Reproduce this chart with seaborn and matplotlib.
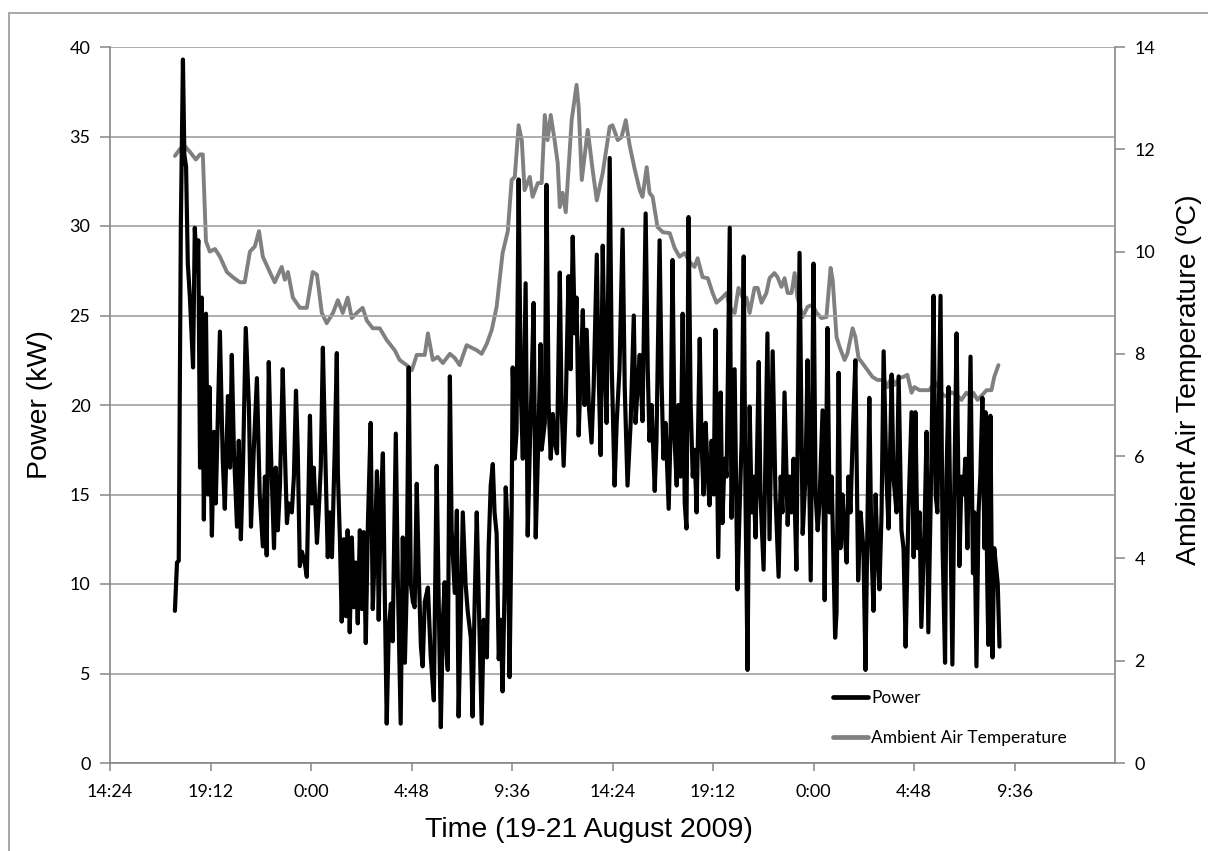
import numpy as np
import pandas as pd
import seaborn as sns
import matplotlib.pyplot as plt
from matplotlib.lines import Line2D
from matplotlib.patches import Rectangle
from matplotlib.ticker import FuncFormatter

# readings, minutes after 17:30 on 19 August 2009
power_min = [
    0, 6, 11, 17, 23, 27, 32, 37, 43, 52, 57, 63, 67, 72, 77, 83, 89, 95, 99, 106,
    112, 117, 129, 137, 143, 152, 158, 163, 169, 178, 183, 189, 195, 203, 212, 218, 226, 235, 243, 252,
    258, 263, 269, 275, 284, 289, 295, 301, 309, 315, 321, 326, 335, 341, 347, 352, 358, 364, 372, 378,
    387, 392, 398, 407, 412, 418, 424, 430, 438, 444, 450, 458, 464, 467, 473, 478, 484, 490, 495, 501,
    507, 513, 518, 524, 530, 536, 541, 547, 553, 561, 567, 573, 579, 584, 590, 596, 601, 607, 613, 619,
    624, 633, 639, 647, 653, 659, 664, 670, 676, 682, 687, 693, 699, 705, 710, 716, 725, 733, 742, 750,
    756, 762, 768, 773, 779, 782, 788, 793, 802, 808, 813, 819, 825, 833, 839, 848, 853, 859, 865, 871,
    879, 885, 894, 899, 905, 911, 916, 922, 928, 934, 939, 945, 948, 954, 959, 965, 968, 974, 979, 985,
    991, 997, 1005, 1011, 1017, 1022, 1028, 1034, 1040, 1048, 1051, 1060, 1065, 1071, 1077, 1083, 1088, 1095, 1103, 1108,
    1114, 1120, 1128, 1134, 1140, 1146, 1151, 1157, 1163, 1169, 1174, 1180, 1186, 1194, 1200, 1209, 1214, 1220, 1226, 1232,
    1237, 1246, 1252, 1260, 1266, 1274, 1283, 1289, 1297, 1306, 1315, 1320, 1326, 1332, 1340, 1349, 1355, 1360, 1366, 1375,
    1380, 1389, 1395, 1400, 1406, 1415, 1421, 1426, 1432, 1438, 1443, 1449, 1455, 1461, 1466, 1472, 1478, 1484, 1489, 1495,
    1504, 1509, 1515, 1521, 1527, 1532, 1538, 1544, 1549, 1557, 1564, 1569, 1575, 1581, 1590, 1595, 1604, 1612, 1618, 1624,
    1630, 1635, 1641, 1647, 1653, 1658, 1664, 1673, 1678, 1687, 1693, 1698, 1704, 1713, 1721, 1730, 1736, 1741, 1747, 1756,
    1761, 1767, 1773, 1781, 1790, 1799, 1807, 1813, 1822, 1830, 1836, 1842, 1847, 1856, 1862, 1870, 1876, 1882, 1892, 1896,
    1902, 1907, 1913, 1919, 1925, 1930, 1936, 1942, 1950, 1958, 1965, 1973, 1979, 1985, 1990, 1996, 2002, 2008, 2013, 2019,
    2025, 2031, 2039, 2045, 2054, 2059, 2068, 2074, 2082, 2088, 2094, 2102, 2111, 2117, 2122, 2128, 2134, 2139, 2148, 2154,
    2159, 2168, 2174, 2180, 2185, 2194, 2200, 2207, 2211, 2217, 2222, 2228, 2234, 2240, 2248, 2254, 2260, 2265, 2271, 2280,
    2287, 2291, 2297, 2303, 2308, 2314, 2320, 2323, 2328, 2331, 2337, 2343, 2348, 2358, 2363,
]
power_kw = [
    8.5, 11.2, 11.3, 30.0, 39.3, 34.0, 33.3, 27.9, 26.0, 22.1, 29.9, 27.5, 29.2, 16.5, 26.0, 13.6, 25.1, 15.0, 21.0, 12.7,
    18.5, 14.5, 24.1, 17.0, 14.2, 20.5, 16.5, 22.8, 17.5, 13.2, 18.0, 12.5, 16.5, 24.3, 20.0, 13.2, 17.5, 21.5, 15.0, 12.1,
    16.0, 11.6, 22.4, 17.5, 12.0, 16.5, 13.0, 15.5, 22.0, 17.5, 13.4, 14.5, 14.0, 16.0, 20.8, 17.5, 11.0, 11.8, 11.2, 10.4,
    19.4, 14.5, 16.5, 12.3, 14.0, 16.5, 23.2, 18.0, 11.5, 14.0, 11.5, 17.5, 22.9, 16.2, 12.4, 7.9, 12.5, 8.2, 13.0, 7.3,
    12.6, 8.7, 11.2, 7.8, 13.0, 8.6, 12.9, 6.7, 13.3, 19.0, 8.6, 12.0, 16.3, 8.0, 14.5, 17.3, 10.0, 2.2, 7.5, 8.9,
    6.8, 18.4, 10.0, 2.2, 12.6, 5.6, 9.5, 22.1, 10.0, 9.0, 8.7, 15.6, 10.5, 6.5, 5.4, 9.0, 9.8, 6.0, 3.5, 16.6,
    9.0, 2.0, 8.0, 10.1, 6.0, 5.2, 21.6, 13.0, 9.5, 14.1, 2.6, 8.0, 14.0, 10.0, 8.5, 7.0, 2.6, 9.0, 14.0, 9.0,
    2.2, 8.0, 5.9, 12.0, 15.5, 16.7, 14.0, 12.8, 5.8, 8.0, 4.0, 10.0, 15.4, 13.0, 4.8, 14.0, 22.1, 17.0, 18.5, 32.6,
    21.0, 17.0, 26.8, 12.7, 17.5, 21.0, 25.7, 12.6, 17.0, 23.4, 17.5, 19.0, 32.3, 20.0, 17.0, 19.5, 18.0, 17.3, 27.4, 20.0,
    16.6, 20.0, 27.2, 22.0, 29.4, 24.0, 26.0, 18.3, 22.0, 25.3, 20.0, 24.2, 20.0, 17.9, 21.0, 28.4, 22.0, 17.2, 28.9, 22.0,
    19.0, 33.8, 22.0, 15.5, 19.0, 22.0, 29.8, 21.0, 15.5, 19.0, 25.0, 19.0, 21.0, 22.8, 19.1, 30.7, 22.0, 18.0, 20.0, 15.2,
    18.0, 29.2, 21.0, 17.0, 19.0, 14.2, 19.0, 28.1, 18.0, 15.5, 20.0, 16.0, 25.1, 14.5, 13.1, 30.5, 20.0, 16.0, 17.5, 14.0,
    23.7, 18.0, 15.0, 19.0, 16.0, 14.4, 18.0, 15.0, 24.2, 11.5, 20.7, 13.4, 17.0, 16.0, 29.9, 13.7, 22.0, 9.7, 14.0, 18.0,
    28.3, 15.0, 5.2, 19.9, 14.0, 16.0, 12.6, 22.4, 15.0, 10.8, 18.0, 24.0, 12.5, 23.0, 15.0, 10.4, 16.0, 14.0, 20.7, 13.3,
    16.0, 14.0, 17.0, 10.8, 28.5, 12.8, 16.0, 22.5, 10.2, 27.9, 15.0, 13.0, 14.5, 19.7, 9.1, 24.3, 14.0, 16.0, 7.0, 8.4,
    21.8, 12.0, 15.0, 13.0, 11.2, 16.0, 14.0, 18.0, 22.5, 10.2, 14.0, 12.0, 5.2, 14.0, 20.4, 12.0, 8.5, 15.0, 12.0, 9.7,
    14.0, 23.0, 16.0, 13.1, 21.7, 16.0, 14.0, 21.6, 13.0, 12.0, 6.5, 14.0, 19.6, 11.5, 19.6, 12.0, 14.0, 7.6, 13.0, 18.5,
    7.3, 17.0, 26.1, 15.0, 14.0, 26.1, 12.0, 5.6, 16.0, 21.0, 14.0, 5.5, 16.0, 24.0, 11.0, 16.0, 15.0, 17.0, 12.0, 22.7,
    10.6, 14.0, 5.4, 14.0, 16.0, 20.4, 12.0, 19.6, 10.0, 6.6, 19.4, 5.9, 12.0, 10.0, 6.5,
]

temp_min = [
    0, 14, 26, 43, 60, 72, 80, 89, 100, 115, 129, 149, 166, 186, 200, 215, 229, 241, 252, 272,
    286, 306, 315, 324, 338, 358, 378, 395, 407, 421, 435, 453, 467, 481, 495, 507, 521, 538, 550, 567,
    587, 607, 630, 644, 664, 679, 693, 716, 725, 739, 753, 768, 788, 802, 816, 836, 865, 879, 894, 908,
    922, 939, 954, 965, 974, 985, 994, 1002, 1017, 1025, 1040, 1051, 1060, 1068, 1077, 1088, 1097, 1103, 1111, 1120,
    1137, 1151, 1157, 1166, 1183, 1197, 1209, 1226, 1246, 1254, 1269, 1280, 1292, 1303, 1317, 1332, 1340, 1352, 1360, 1369,
    1383, 1398, 1418, 1432, 1446, 1461, 1475, 1489, 1498, 1512, 1527, 1541, 1552, 1567, 1581, 1590, 1604, 1615, 1627, 1638,
    1647, 1661, 1670, 1681, 1695, 1704, 1718, 1727, 1738, 1747, 1756, 1767, 1776, 1784, 1799, 1813, 1827, 1839, 1853, 1867,
    1879, 1885, 1896, 1905, 1919, 1927, 1942, 1950, 1959, 1970, 1985, 1999, 2013, 2033, 2042, 2054, 2062, 2076, 2088, 2099,
    2111, 2119, 2134, 2162, 2177, 2185, 2200, 2214, 2225, 2240, 2254, 2268, 2283, 2288, 2300, 2314, 2326, 2340, 2348, 2360,
]
temp_c = [
    11.87, 12.0, 12.08, 11.95, 11.8, 11.9, 11.9, 10.2, 10.0, 10.05, 9.9, 9.6, 9.5, 9.4, 9.4, 10.0, 10.1, 10.4, 9.9, 9.6,
    9.4, 9.7, 9.45, 9.6, 9.1, 8.9, 8.9, 9.6, 9.55, 8.8, 8.6, 8.8, 9.05, 8.8, 9.1, 8.7, 8.8, 8.9, 8.65, 8.5,
    8.5, 8.27, 8.07, 7.88, 7.78, 7.68, 7.98, 7.98, 8.4, 7.88, 7.94, 7.82, 8.0, 7.92, 7.78, 8.17, 8.07, 8.0, 8.2, 8.47,
    8.92, 9.97, 10.4, 11.4, 11.46, 12.47, 12.18, 11.2, 11.46, 11.07, 11.34, 11.34, 12.67, 12.18, 12.67, 12.18, 11.73, 10.87, 11.15, 10.77,
    12.57, 13.26, 12.83, 11.4, 12.38, 11.6, 11.0, 11.54, 12.44, 12.47, 12.18, 12.24, 12.57, 12.08, 11.63, 11.2, 11.07, 11.65, 11.15, 11.07,
    10.48, 10.38, 10.36, 10.07, 9.9, 9.97, 9.8, 9.7, 9.87, 9.5, 9.48, 9.19, 9.0, 9.09, 9.19, 8.9, 8.8, 9.29, 9.1, 9.1,
    8.8, 9.29, 9.29, 9.0, 9.19, 9.48, 9.58, 9.5, 9.31, 9.48, 9.19, 9.19, 9.58, 9.1, 8.72, 8.92, 8.96, 8.8, 8.7, 8.72,
    9.68, 9.44, 8.33, 8.13, 7.88, 8.0, 8.5, 8.33, 7.92, 7.82, 7.68, 7.55, 7.49, 7.49, 7.35, 7.55, 7.39, 7.53, 7.55, 7.59,
    7.24, 7.35, 7.29, 7.29, 7.45, 7.39, 7.2, 7.16, 7.25, 7.2, 7.1, 7.24, 7.16, 7.24, 7.1, 7.2, 7.29, 7.29, 7.55, 7.78,
]

start_hour = 17.5  # 17:30, 19 Aug
tick_hours = [14.4, 19.2, 24.0, 28.8, 33.6, 38.4, 43.2, 48.0, 52.8, 57.6]

power = pd.DataFrame({"hour": start_hour + np.array(power_min) / 60, "kw": power_kw})
temp = pd.DataFrame({"hour": start_hour + np.array(temp_min) / 60, "temp": temp_c})

sns.set_style("white")
plt.rcParams["font.family"] = ["Lato", "DejaVu Sans"]
plt.rcParams["text.color"] = "black"
plt.rcParams["axes.labelcolor"] = "black"
plt.rcParams["xtick.labelcolor"] = "black"
plt.rcParams["ytick.labelcolor"] = "black"

AXIS_GREY = "#868686"
GRID_GREY = "#a0a0a0"
TEMP_GREY = "#808080"

fig = plt.figure(figsize=(12.08, 8.51), dpi=100)
ax = fig.add_axes([110 / 1208, 1 - 763 / 851, 1005 / 1208, 716 / 851])
ax2 = ax.twinx()

sns.lineplot(data=temp, x="hour", y="temp", ax=ax2, color=TEMP_GREY, linewidth=2.8, estimator=None)
sns.lineplot(data=power, x="hour", y="kw", ax=ax, color="black", linewidth=3.0, estimator=None)

ax.set_zorder(2)
ax2.set_zorder(1)
ax.patch.set_visible(False)

ax.set_xlim(14.4, 62.4)
ax.set_ylim(0, 40)
ax2.set_ylim(0, 14)
ax.set_yticks(range(0, 41, 5))
ax2.set_yticks(range(0, 15, 2))
ax.set_xticks(tick_hours)


def hhmm(h, pos):
    h = round(h * 60) % (24 * 60)
    return f"{h // 60}:{h % 60:02d}"


ax.xaxis.set_major_formatter(FuncFormatter(hhmm))

ax.yaxis.grid(True, color=GRID_GREY, linewidth=1.2)
ax.xaxis.grid(False)
ax2.grid(False)

for a in (ax, ax2):
    for s in a.spines.values():
        s.set_visible(False)
ax.spines["left"].set_visible(True)
ax.spines["bottom"].set_visible(True)
ax2.spines["right"].set_visible(True)
for s in (ax.spines["left"], ax.spines["bottom"], ax2.spines["right"]):
    s.set_color(AXIS_GREY)
    s.set_linewidth(1.2)

ax.tick_params(axis="y", direction="out", length=7, width=1.1, color=AXIS_GREY, pad=7, labelsize=13, left=True)
ax.tick_params(axis="x", direction="out", length=6, width=1.1, color=AXIS_GREY, pad=9, labelsize=13, bottom=True)
ax2.tick_params(axis="y", direction="out", length=7, width=1.1, color=AXIS_GREY, pad=7, labelsize=13, right=True)

label_font = {"family": ["Liberation Sans", "DejaVu Sans"], "size": 20.5, "color": "black"}
ax.set_xlabel("Time (19-21 August 2009)", fontdict=label_font)
ax.set_ylabel("Power (kW)", fontdict=label_font)
ax2.set_ylabel("Ambient Air Temperature (ºC)", fontdict=label_font)
ax.xaxis.set_label_coords(0.477, -0.094)
ax.xaxis.label.set_va("center")
ax.yaxis.set_label_coords(-0.07, 0.5)
ax.yaxis.label.set_va("center")
ax2.yaxis.set_label_coords(1.074, 0.535)
ax2.yaxis.label.set_va("center")

handles = [Line2D([], [], color="black", linewidth=3.4), Line2D([], [], color=TEMP_GREY, linewidth=3.4)]
fig.legend(handles, ["Power", "Ambient Air Temperature"], loc="upper left",
           bbox_to_anchor=(833 / 1208, 1 - 690 / 851), frameon=False, fontsize=12.5,
           handlelength=2.0, handletextpad=0.2, labelspacing=1.4, borderpad=0, borderaxespad=0)

# outer frame of the embedded chart
fig.add_artist(Rectangle((8.5 / 1208, -0.2), 1.2, 1.2 - 12.5 / 851, transform=fig.transFigure,
                         fill=False, edgecolor="#a0a0a0", linewidth=1.3))

fig.savefig("out.png", dpi=100)
